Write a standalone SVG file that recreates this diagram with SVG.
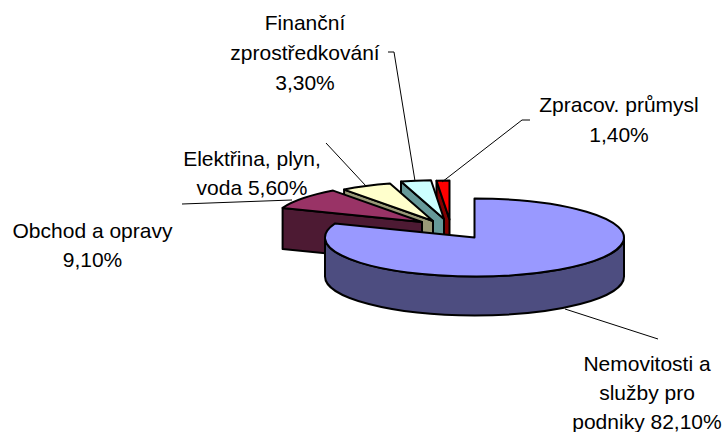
<svg xmlns="http://www.w3.org/2000/svg" width="723" height="432" viewBox="0 0 723 432">
<style>
.s{stroke:#000;stroke-width:2;stroke-linejoin:round}
.ld{fill:none;stroke:#000;stroke-width:1}
text{font-family:"Liberation Sans",Arial,sans-serif;font-size:21px;fill:#000;text-anchor:middle}
</style>
<rect width="723" height="432" fill="#fff"/>
<g id="slice-zpracov">
<path class="s" fill="#800000" d="M436.5,180.7 L449.5,219.5 L449.5,260 L436.5,221.6 Z"/>
<path class="s" fill="#FF0000" d="M449.5,219.5 L436.5,180.7 A149.5,39 0 0 1 449.5,180.5 Z"/>
</g>
<g id="slice-financni">
<path class="s" fill="#669999" d="M401,181.6 L444,219 L444,260 L401,222.6 Z"/>
<path class="s" fill="#CCFFFF" d="M444,219 L401,181.6 A149.5,39 0 0 1 431,180.2 Z"/>
</g>
<g id="slice-elektrina">
<path class="s" fill="#999977" d="M344.1,189.6 L433,221 L433,262 L344.1,230.6 Z"/>
<path class="s" fill="#FFFFCC" d="M433,221 L344.1,189.6 A149.5,39 0 0 1 390,183.6 Z"/>
</g>
<g id="slice-obchod">
<path class="s" fill="#4D1A33" d="M282.6,207.9 L422,222 L422,263 L282.6,248.9 Z"/>
<path class="s" fill="#993366" d="M422,222 L282.6,207.9 A149.5,39 0 0 1 333.1,190.6 Z"/>
</g>
<g id="slice-nemovitosti">
<path class="s" fill="#4D4D80" d="M325,237.5 A149.5,39 0 0 0 624,237.5 L624,276.5 A149.5,39 0 0 1 325,276.5 Z"/>
<path class="s" fill="#9999FF" d="M474.5,237.5 L474.5,198.5 A149.5,39 0 1 1 335.1,223.4 Z"/>
</g>
<g id="connectors">
<polyline class="ld" points="388,52 394,52 415,181"/>
<polyline class="ld" points="530,120 522,120 442,182"/>
<polyline class="ld" points="326,143 366,186"/>
<polyline class="ld" points="182,204 292,200"/>
<polyline class="ld" points="565,309 658,339"/>
</g>
<g id="label-financni">
<text x="305" y="29.5">Finanční</text>
<text x="305" y="59.5">zprostředkování</text>
<text x="305" y="89.5">3,30%</text>
</g>
<g id="label-zpracov">
<text x="619" y="111.7">Zpracov. průmysl</text>
<text x="619" y="141.7">1,40%</text>
</g>
<g id="label-elektrina">
<text x="252" y="165.5">Elektřina, plyn,</text>
<text x="252" y="194.5">voda 5,60%</text>
</g>
<g id="label-obchod">
<text x="92.5" y="237.5">Obchod a opravy</text>
<text x="92.5" y="267">9,10%</text>
</g>
<g id="label-nemovitosti">
<text x="647" y="370.5">Nemovitosti a</text>
<text x="647" y="399.5">služby pro</text>
<text x="647" y="428.5">podniky 82,10%</text>
</g>
</svg>
